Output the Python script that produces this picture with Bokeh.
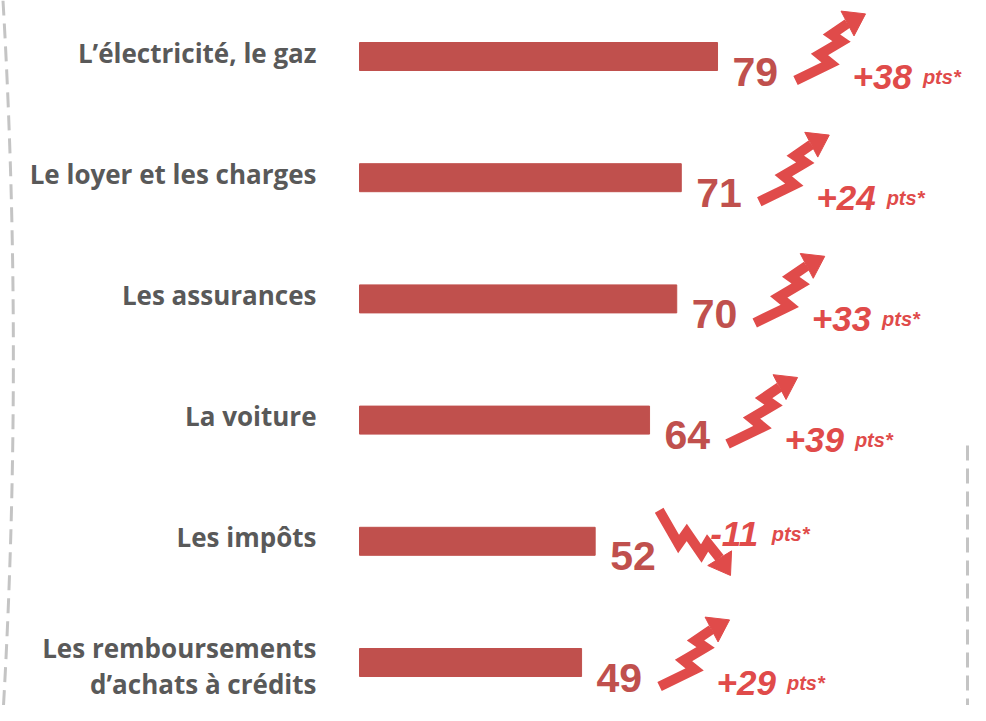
import numpy as np
from bokeh.plotting import figure
from bokeh.models import Range1d
from bokeh.core.properties import value
from bokeh.embed import file_html
from bokeh.resources import INLINE

# ---------------- data ----------------
categories = [
    "L’électricité, le gaz",
    "Le loyer et les charges",
    "Les assurances",
    "La voiture",
    "Les impôts",
    "Les remboursements\nd’achats à crédits",
]
values = [79, 71, 70, 64, 52, 49]
changes = [38, 24, 33, 39, -11, 29]
change_unit = "pts*"

# ---------------- layout ----------------
W, H = 970, 705
PPU = 4.532          # pixels per value unit
X0 = 359             # pixel of value 0
Y0 = 56              # pixel of first row centre
ROW = 121.2          # pixels between rows

BAR_COLOR = "#C0504D"
ARROW_COLOR = "#E04B4A"
LABEL_COLOR = "#595959"
DASH_COLOR = "#C4C4C4"


def dx(px):
    return px / PPU


def dy(px):
    return px / ROW


def fx(X):
    return (X - X0) / PPU


def fy(Y):
    return (Y - Y0) / ROW


p = figure(width=W, height=H,
           x_range=Range1d(-X0 / PPU, (W - X0) / PPU),
           y_range=Range1d((H - Y0) / ROW, -Y0 / ROW),
           x_axis_type=None, y_axis_type=None,
           output_backend="svg", toolbar_location=None,
           min_border=0, outline_line_color=None)
p.grid.visible = False
p.background_fill_color = "white"
p.border_fill_color = "white"

idx = list(range(len(categories)))

# bars
p.hbar(y=idx, left=0, right=values, height=dy(28), color=BAR_COLOR)

# category labels (multi-line blocks nudged down a little)
cat_y = [i + dy(-4 + 7 * (c.count("\n"))) for i, c in zip(idx, categories)]
p.text(x=[dx(-43)] * len(idx), y=cat_y, text=categories,
       text_font=value("Open Sans"), text_font_style="bold", text_font_size="26px",
       text_color=LABEL_COLOR, text_align="right", text_baseline="middle",
       text_line_height=1.0)

# value labels
p.text(x=[v + dx(15) for v in values], y=[i + dy(15) for i in idx],
       text=[str(v) for v in values],
       text_font=value("Liberation Sans"), text_font_style="bold", text_font_size="41px",
       text_color=BAR_COLOR, text_align="left", text_baseline="alphabetic")

# change labels
CW = {"+": 0.584, "-": 0.333}
num_x, num_y, num_t, unit_x = [], [], [], []
for i, v, c in zip(idx, values, changes):
    t = f"+{c}" if c > 0 else f"-{abs(c)}"
    ox, oy = (135, 20) if c > 0 else (115, -7)
    width = sum(CW.get(ch, 0.556) for ch in t) * 35
    num_x.append(v + dx(ox))
    num_y.append(i + dy(oy))
    num_t.append(t)
    unit_x.append(v + dx(ox + width + 11))

p.text(x=num_x, y=num_y, text=num_t,
       text_font=value("Liberation Sans"), text_font_style="bold italic", text_font_size="35px",
       text_color=ARROW_COLOR, text_align="left", text_baseline="alphabetic")
p.text(x=unit_x, y=num_y, text=[change_unit] * len(idx),
       text_font=value("Liberation Sans"), text_font_style="bold italic", text_font_size="20px",
       text_color=ARROW_COLOR, text_align="left", text_baseline="alphabetic")

# zigzag arrows (shape template in screen pixels, y down)
shaft_t = np.array([(0, 0), (35, -17), (24, -26), (46, -39), (36, -46), (52, -57)], float)
head_t = np.array([(70.0, -66.6), (58.5, -44.6), (45.5, -69.4)], float)


def rot(pts, deg):
    a = np.radians(deg)
    c, s = np.cos(a), np.sin(a)
    return np.column_stack([pts[:, 0] * c - pts[:, 1] * s, pts[:, 0] * s + pts[:, 1] * c])


sx, sy, hx, hy = [], [], [], []
for i, v, c in zip(idx, values, changes):
    if c > 0:
        ang, ox, oy = 0, 78, 24
    else:
        ang, ox, oy = 86, 64, -31
    sh = rot(shaft_t, ang)
    hd = rot(head_t, ang)
    sx.append(list(v + dx(ox + sh[:, 0])))
    sy.append(list(i + dy(oy + sh[:, 1])))
    hx.append(list(v + dx(ox + hd[:, 0])))
    hy.append(list(i + dy(oy + hd[:, 1])))

p.multi_line(xs=sx, ys=sy, line_color=ARROW_COLOR, line_width=10,
             line_join="miter", line_cap="butt")
p.patches(xs=hx, ys=hy, fill_color=ARROW_COLOR, line_color=ARROW_COLOR, line_width=1)

# decorative dashed frame lines
p.quadratic(x0=[fx(2.5)], y0=[fy(0)], x1=[fx(3)], y1=[fy(705)],
            cx=[fx(23)], cy=[fy(352)],
            line_color=DASH_COLOR, line_width=3, line_dash="15 8")
p.segment(x0=[fx(967)], y0=[fy(445)], x1=[fx(967)], y1=[fy(705)],
          line_color=DASH_COLOR, line_width=3, line_dash="15 8")

open("out.html", "w").write(file_html(p, INLINE))
